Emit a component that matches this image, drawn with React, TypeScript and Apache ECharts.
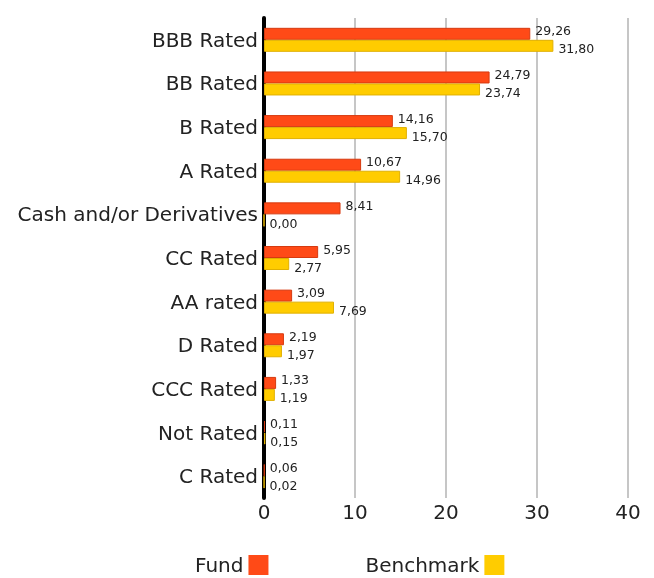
import React, { useEffect, useRef } from "react";
import * as echarts from "echarts";

const categories = [
  "BBB Rated",
  "BB Rated",
  "B Rated",
  "A Rated",
  "Cash and/or Derivatives",
  "CC Rated",
  "AA rated",
  "D Rated",
  "CCC Rated",
  "Not Rated",
  "C Rated",
];
const fundValues = [29.26, 24.79, 14.16, 10.67, 8.41, 5.95, 3.09, 2.19, 1.33, 0.11, 0.06];
const benchmarkValues = [31.8, 23.74, 15.7, 14.96, 0.0, 2.77, 7.69, 1.97, 1.19, 0.15, 0.02];
const xTicks = [0, 10, 20, 30, 40];

const FONT = "'DejaVu Sans', sans-serif";

export default function App() {
  const ref = useRef<HTMLDivElement>(null);
  useEffect(() => {
    if (!ref.current) return;
    const chart = echarts.init(ref.current, undefined, { renderer: "svg" });
    const fmt = (p: any) => Number(p.value).toFixed(2).replace(".", ",");
    chart.setOption({
      animation: false,
      textStyle: { fontFamily: FONT },
      grid: { left: 264, right: 26, top: 18, height: 480 },
      legend: {
        left: 195,
        top: 555,
        padding: 0,
        align: "right",
        itemWidth: 20,
        itemHeight: 20,
        itemGap: 97,
        icon: "rect",
        itemStyle: { borderWidth: 0 },
        textStyle: { fontSize: 20, color: "#222", fontFamily: FONT },
        data: ["Fund", "Benchmark"],
      },
      xAxis: {
        type: "value",
        min: xTicks[0],
        max: xTicks[xTicks.length - 1],
        interval: 10,
        axisLine: { show: false },
        axisTick: { show: false },
        splitLine: { lineStyle: { color: "#c6c6c6", width: 2 } },
        axisLabel: { fontSize: 20, color: "#222", margin: 4, fontFamily: FONT },
      },
      yAxis: {
        type: "category",
        data: categories,
        inverse: true,
        axisLine: { show: true, lineStyle: { color: "#000", width: 4 } },
        axisTick: { show: false },
        axisLabel: { fontSize: 20, color: "#222", margin: 6, fontFamily: FONT },
      },
      series: [
        {
          name: "Fund",
          type: "bar",
          data: fundValues,
          barWidth: 12,
          barGap: "0%",
          itemStyle: { color: "#FF4A17", borderColor: "#D63A10", borderWidth: 1 },
          label: {
            show: true,
            position: "right",
            offset: [0, -3],
            formatter: fmt,
            fontSize: 12.5,
            color: "#222",
            fontFamily: FONT,
          },
        },
        {
          name: "Benchmark",
          type: "bar",
          data: benchmarkValues,
          barWidth: 12,
          itemStyle: { color: "#FFCC00", borderColor: "#E0B000", borderWidth: 1 },
          label: {
            show: true,
            position: "right",
            offset: [0, 3],
            formatter: fmt,
            fontSize: 12.5,
            color: "#222",
            fontFamily: FONT,
          },
        },
      ],
    });
    return () => chart.dispose();
  }, []);
  return (
    <div
      ref={ref}
      style={{ position: "fixed", left: 0, top: 0, width: 654, height: 578 }}
    />
  );
}
